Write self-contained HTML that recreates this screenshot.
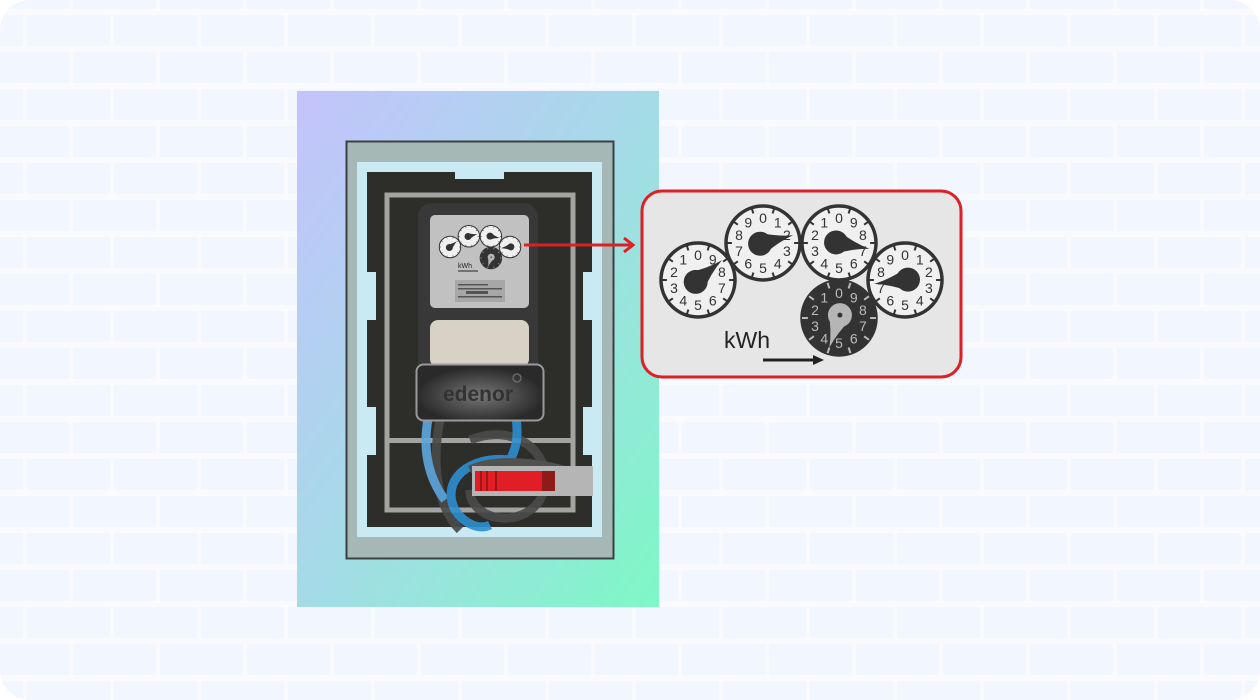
<!DOCTYPE html>
<html><head><meta charset="utf-8"><style>
html,body{margin:0;padding:0;background:#fff;}
svg{display:block;}
text{font-family:"Liberation Sans",sans-serif;}
</style></head><body>
<svg id="s" width="1260" height="700" viewBox="0 0 1260 700" xmlns="http://www.w3.org/2000/svg">
<defs>
<pattern id="brick" patternUnits="userSpaceOnUse" x="27" y="15" width="87" height="74">
<rect width="87" height="74" fill="#f8fafd"/>
<rect x="0" y="0" width="83" height="31" fill="#f2f6fe"/>
<rect x="46" y="37" width="83" height="31" fill="#f2f6fe"/>
<rect x="-41" y="37" width="83" height="31" fill="#f2f6fe"/>
</pattern>
<linearGradient id="g" x1="0" y1="0" x2="1" y2="1">
<stop offset="0" stop-color="#c4c3fc"/>
<stop offset="0.45" stop-color="#a8d8ea"/>
<stop offset="1" stop-color="#7ef8c6"/>
</linearGradient>
<radialGradient id="glow" cx="0.5" cy="0.55" r="0.5">
<stop offset="0" stop-color="#777"/>
<stop offset="1" stop-color="#2a2a2a"/>
</radialGradient>
</defs>
<rect width="1260" height="700" rx="30" fill="url(#brick)"/>
<rect x="297" y="91" width="362" height="516" fill="url(#g)"/>
<rect x="346.5" y="141.5" width="267" height="417" fill="#a6b8b6" stroke="#3b4142" stroke-width="2"/>
<rect x="357" y="162" width="245" height="375" fill="#c9e9f3"/>
<rect x="367" y="172" width="225" height="355" fill="#2d2d2a"/>
<rect x="455" y="170" width="49" height="9" fill="#c9e9f3"/>
<rect x="366" y="272" width="10" height="48" fill="#c9e9f3"/>
<rect x="366" y="407" width="10" height="48" fill="#c9e9f3"/>
<rect x="583" y="272" width="10" height="48" fill="#c9e9f3"/>
<rect x="583" y="407" width="10" height="48" fill="#c9e9f3"/>
<rect x="387" y="195" width="186" height="315" fill="none" stroke="#a3a3a1" stroke-width="5"/>
<rect x="386" y="438" width="188" height="5" fill="#a3a3a1"/>
<g fill="none" stroke-width="9" opacity="0.9">
<path d="M440 420 C430 470 440 510 460 530" stroke="#4a4a4a"/>
<path d="M470 440 C520 420 560 460 540 500 C520 530 470 520 470 490" stroke="#4a4a4a"/>
<path d="M430 410 C420 450 430 480 445 500" stroke="#5ea7de"/>
<path d="M515 410 C520 440 515 450 510 460 C470 455 440 480 455 510 C465 525 480 530 490 525" stroke="#2e8fd0"/>
<path d="M470 470 C500 455 560 465 590 480" stroke="#555"/>
</g>
<rect x="418" y="203" width="120" height="205" rx="14" fill="#383838"/>
<rect x="430" y="215" width="99" height="93" rx="5" fill="#c1c1c1"/>
<rect x="455" y="280" width="50" height="22" fill="#a7a7a7"/>
<g fill="#555"><rect x="458" y="284" width="30" height="1.5"/><rect x="458" y="288" width="44" height="1.5"/><rect x="466" y="291" width="22" height="3"/><rect x="458" y="296" width="44" height="1.5"/></g>
<rect x="430" y="320" width="99" height="47" rx="8" fill="#d8d1c5"/>
<rect x="416.5" y="364.5" width="127" height="56" rx="7" fill="url(#glow)" stroke="#9a9a9a" stroke-width="2"/>
<text x="478" y="401" font-size="21" text-anchor="middle" fill="#333" font-weight="bold">edenor</text>
<circle cx="517" cy="378" r="4" fill="none" stroke="#666" stroke-width="1.5"/>
<rect x="472" y="466" width="121" height="30" fill="#b5b5b5"/>
<rect x="475" y="471" width="80" height="20" fill="#e11d25"/>
<rect x="542" y="471" width="13" height="20" fill="#8e1a1a"/>
<rect x="480" y="471" width="2" height="20" fill="#a01515"/><rect x="486" y="471" width="2" height="20" fill="#a01515"/><rect x="495" y="471" width="2" height="20" fill="#a01515"/>
<line x1="524" y1="245" x2="630" y2="245" stroke="#dd1f26" stroke-width="3"/>
<path d="M624 238 L633 245 L624 252" fill="none" stroke="#dd1f26" stroke-width="3"/>
<rect x="642" y="191" width="319" height="186" rx="20" fill="#e6e6e6" stroke="#dd1f26" stroke-width="3"/>
<text x="724" y="348" font-size="23" fill="#222">kWh</text>
<line x1="763" y1="360" x2="815" y2="360" stroke="#222" stroke-width="3"/>
<path d="M813 355 L824 360 L813 365 Z" fill="#222"/>
<g id="big"></g>
<g id="small"></g>
<text x="458" y="268" font-size="7" fill="#222">kWh</text>
<line x1="458" y1="271" x2="478" y2="271" stroke="#222" stroke-width="1"/>
</svg>
<script>
var NS="http://www.w3.org/2000/svg";
function el(p,t,a,txt){var e=document.createElementNS(NS,t);for(var k in a)e.setAttribute(k,a[k]);if(txt!==undefined)e.textContent=txt;p.appendChild(e);return e;}
var dials=[[698,280,-1,8.6,0],[763,243,1,2.1,0],[839,243,-1,7.2,0],[905,280,1,7.3,0],[839,318,-1,4.5,1]];
function draw(g,s,ox,oy){
 dials.forEach(function(d){
  var cx=ox+(d[0]-698)*s, cy=oy+(d[1]-280)*s, r=37*s;
  var fg=d[4]?"#bbb":"#333", bg=d[4]?"#333":"#f0f0f0";
  el(g,"circle",{cx:cx,cy:cy,r:r,fill:bg,stroke:"#333","stroke-width":3.5*s});
  for(var i=0;i<10;i++){
   var a=(i*36+18)*Math.PI/180;
   el(g,"line",{x1:cx+Math.sin(a)*r*0.84,y1:cy-Math.cos(a)*r*0.84,x2:cx+Math.sin(a)*r,y2:cy-Math.cos(a)*r,stroke:d[4]?"#bbb":"#333","stroke-width":2*s});
   var b=d[2]*i*36*Math.PI/180;
   if(s>0.5) el(g,"text",{x:cx+Math.sin(b)*r*0.68,y:cy-Math.cos(b)*r*0.68+5,"font-size":14,"text-anchor":"middle",fill:fg},String(i));
  }
  var t=d[2]*d[3]*36*Math.PI/180, ux=Math.sin(t),uy=-Math.cos(t), px=-uy,py=ux;
  var br=12*s, tip=31*s;
  var bx=cx-ux*3*s, by=cy-uy*3*s;
  var col=d[4]?"#b5b5b5":"#333";
  el(g,"circle",{cx:bx,cy:by,r:br,fill:col});
  var p="M"+(bx+px*br)+" "+(by+py*br)+" Q"+(cx+ux*tip*0.45+px*br*0.25)+" "+(cy+uy*tip*0.45+py*br*0.25)+" "+(cx+ux*tip)+" "+(cy+uy*tip)+" Q"+(cx+ux*tip*0.45-px*br*0.25)+" "+(cy+uy*tip*0.45-py*br*0.25)+" "+(bx-px*br)+" "+(by-py*br)+"Z";
  el(g,"path",{d:p,fill:col});
  if(d[4]) el(g,"circle",{cx:bx,cy:by,r:2.5*s,fill:"#333"});
 });
}
draw(document.getElementById("big"),1,698,280);
draw(document.getElementById("small"),0.29,450,247);
</script>
</body></html>
